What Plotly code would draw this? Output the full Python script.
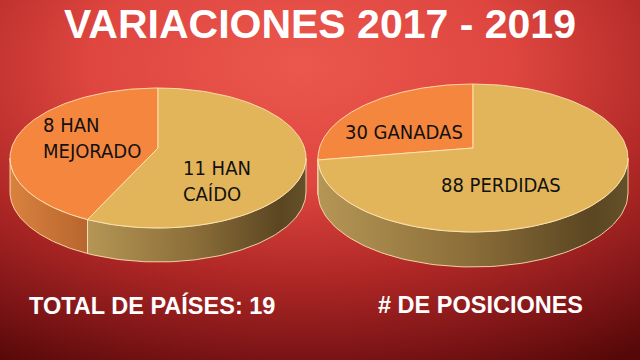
import base64
import numpy as np
import plotly.graph_objects as go

# ---------------- data ----------------
title_text = "VARIACIONES 2017 - 2019"

left_labels = ["8 HAN<br>MEJORADO", "11 HAN<br>CAÍDO"]
left_values = [8, 11]
left_caption = "TOTAL DE PAÍSES: 19"

right_labels = ["30 GANADAS", "88 PERDIDAS"]
right_values = [30, 88]
right_caption = "# DE POSICIONES"

# ---------------- style ----------------
top_colors = ["#F5863E", "#E3B55A"]
side_scales = [
    [[0, "#d9823f"], [1, "#b8652e"]],
    [[0, "#b59656"], [0.5, "#8a6d38"], [0.88, "#5b4622"], [1, "#645029"]],
]
rim = "rgba(255,232,185,0.85)"
label_font = dict(family="DejaVu Sans Condensed, sans-serif", size=20, color="#111111")

W, H = 640, 360

fig = go.Figure()

# background gradient as svg image
svg = f"""<svg xmlns='http://www.w3.org/2000/svg' width='{W}' height='{H}'>
<defs>
<radialGradient id='g' cx='0.47' cy='0.18' r='0.95' fx='0.47' fy='0.18'>
<stop offset='0' stop-color='#eb574d'/>
<stop offset='0.35' stop-color='#de463f'/>
<stop offset='0.62' stop-color='#b02826'/>
<stop offset='0.85' stop-color='#7c1416'/>
<stop offset='1' stop-color='#560808'/>
</radialGradient>
</defs>
<rect width='{W}' height='{H}' fill='url(#g)'/>
</svg>"""
src = "data:image/svg+xml;base64," + base64.b64encode(svg.encode()).decode()
fig.add_layout_image(dict(source=src, xref="x", yref="y", x=0, y=0, sizex=W, sizey=H,
                          xanchor="left", yanchor="top", sizing="stretch", layer="below"))

# circuit decorations
circ = "rgba(255,140,100,0.45)"
paths = [
    "M 33 0 L 33 8 L 55 26", "M 14 0 L 14 30 L 33 48", "M 8 0 L 8 52 L 33 75",
    "M 3 0 L 3 60 L 29 96", "M 13 76 L 13 96", "M 0 125 L 4 121",
    "M 0 205 L 5 211", "M 30 263 L 15 290 L 15 360", "M 34 282 L 22 305 L 22 360",
    "M 36 313 L 36 360", "M 56 333 L 40 350 L 40 360", "M 4 300 L 4 360", "M 9 290 L 9 360",
    "M 625 0 L 625 8 L 604 26", "M 631 0 L 631 52 L 616 65 L 616 82",
    "M 616 264 L 616 280 L 602 295 L 602 360", "M 619 299 L 605 335 L 605 360",
    "M 627 346 L 627 360", "M 636 190 L 636 360",
]
for p in paths:
    fig.add_shape(type="path", path=p, xref="x", yref="y", line=dict(color=circ, width=1), layer="below")
circles = [(58, 29, 3.5), (36, 52, 4), (36, 79, 4), (31, 100, 4), (13, 99, 3), (6, 118, 4),
           (7, 215, 4), (8, 240, 4), (33, 260, 4), (37, 279, 4), (36, 310, 3), (59, 330, 3),
           (601, 29, 3.5), (616, 86, 4.5), (616, 260, 4), (621, 295, 3.5), (627, 342, 4)]
for x, y, r in circles:
    fig.add_shape(type="circle", x0=x - r, x1=x + r, y0=y - r, y1=y + r, xref="x", yref="y",
                  line=dict(color=circ, width=1), layer="below")


def add_pie3d(values, labels, cx, cy, a, b, depth, apex_dy, label_pos):
    total = float(sum(values))
    starts = [90.0]
    for v in values:
        starts.append(starts[-1] + v / total * 360.0)

    def pt(t, dy=0.0):
        r = np.radians(t)
        return cx + a * np.cos(r), cy - b * np.sin(r) + dy

    # sides (front half only: 180..360 deg)
    for i in range(len(values)):
        t0, t1 = starts[i], starts[i + 1]
        for lo, hi in [(180, 360), (540, 720)]:
            s, e = max(t0, lo), min(t1, hi)
            if e <= s:
                continue
            ts = np.linspace(s, e, 80)
            xt, yt = pt(ts)
            xb, yb = pt(ts[::-1], depth)
            xs = np.concatenate([xt, xb, xt[:1]])
            ys = np.concatenate([yt, yb, yt[:1]])
            fig.add_trace(go.Scatter(
                x=xs, y=ys, mode="lines", fill="toself",
                fillgradient=dict(type="horizontal", colorscale=side_scales[i]),
                line=dict(color=rim, width=1), hoverinfo="skip", showlegend=False))
    # tops
    for i in range(len(values)):
        ts = np.linspace(starts[i], starts[i + 1], 120)
        xa, ya = pt(ts)
        xs = np.concatenate([[cx], xa, [cx]])
        ys = np.concatenate([[cy + apex_dy], ya, [cy + apex_dy]])
        fig.add_trace(go.Scatter(
            x=xs, y=ys, mode="lines", fill="toself", fillcolor=top_colors[i],
            line=dict(color=rim, width=1), hoverinfo="skip", showlegend=False,
            name=labels[i].replace("<br>", " ")))
    for lab, (lx, ly) in zip(labels, label_pos):
        fig.add_annotation(x=lx, y=ly, text=lab, showarrow=False, font=label_font,
                           align="left", xref="x", yref="y")


add_pie3d(left_values, left_labels, 158, 158, 148, 70, 34, -10, [(92, 138), (217, 181)])
add_pie3d(right_values, right_labels, 473, 158, 155, 74, 35, -10, [(404, 132), (501, 185)])

title_font = dict(family="Liberation Sans, Arial, sans-serif", size=41, color="white")
fig.add_annotation(x=320, y=0, yanchor="top", borderpad=0, text=f"<b>{title_text}</b>",
                   showarrow=False, font=title_font, xref="x", yref="y")
cap_font = dict(family="Liberation Sans, Arial, sans-serif", size=23.5, color="white")
fig.add_annotation(x=152, y=305, text=f"<b>{left_caption}</b>", showarrow=False, font=cap_font,
                   xref="x", yref="y")
fig.add_annotation(x=480, y=305, text=f"<b>{right_caption}</b>", showarrow=False, font=cap_font,
                   xref="x", yref="y")

fig.update_xaxes(range=[0, W], visible=False, fixedrange=True)
fig.update_yaxes(range=[H, 0], visible=False, fixedrange=True)
fig.update_layout(width=W, height=H, margin=dict(l=0, r=0, t=0, b=0),
                  paper_bgcolor="#b02826", plot_bgcolor="rgba(0,0,0,0)", showlegend=False)

fig.write_html("out.html", config={"displayModeBar": False})

# remove default page margins so the 640x360 figure fills the window exactly
with open("out.html", encoding="utf-8") as f:
    html = f.read()
html = html.replace("<head>", "<head><style>html,body{margin:0;padding:0;overflow:hidden;}</style>", 1)
with open("out.html", "w", encoding="utf-8") as f:
    f.write(html)
